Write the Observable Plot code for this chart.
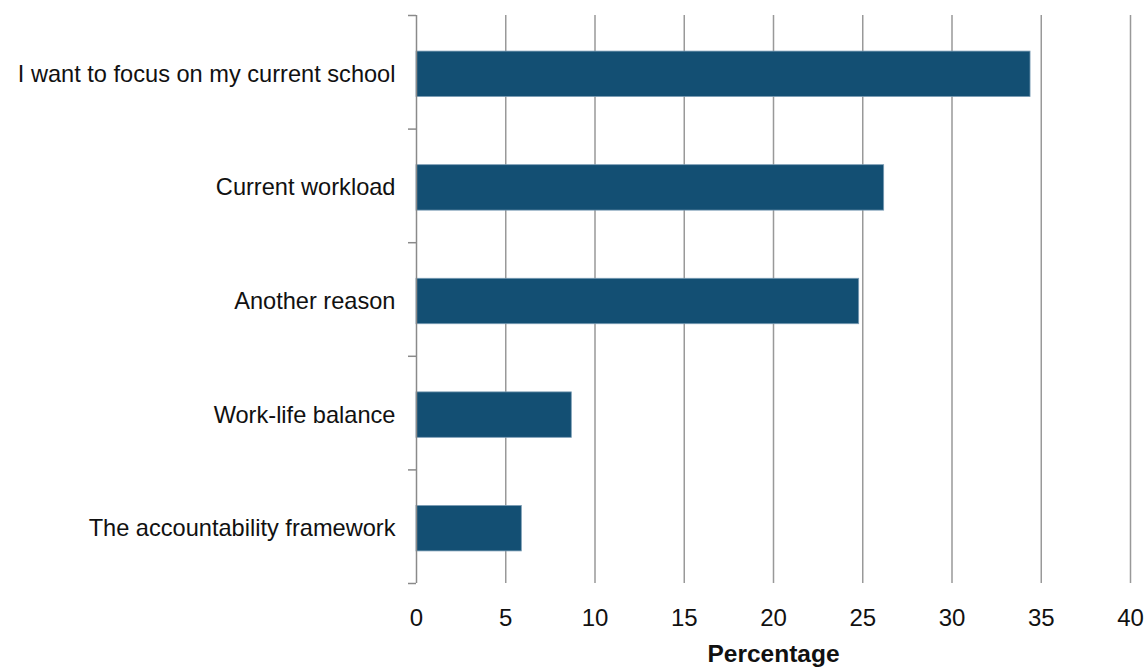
<!DOCTYPE html>
<html><head><meta charset="utf-8">
<script src="https://cdn.jsdelivr.net/npm/d3@7"></script>
<script src="https://cdn.jsdelivr.net/npm/@observablehq/plot@0.6"></script>
<style>html,body{margin:0;padding:0;background:#fff} svg{display:block}</style>
</head><body><div id="chart"></div>
<script>
const categories = ["I want to focus on my current school", "Current workload", "Another reason", "Work-life balance", "The accountability framework"];
const values = [34.4, 26.2, 24.8, 8.7, 5.9];
const xTicks = [0, 5, 10, 15, 20, 25, 30, 35, 40];
const xTitle = "Percentage";

const data = categories.map((c, i) => ({category: c, value: values[i]}));
const W = 1146, H = 670, mL = 416, mR = 16, mT = 15, mB = 87;
const step = (H - mT - mB) / categories.length;
const axisGray = "#8a8a8a";

const plot = Plot.plot({
  width: W, height: H,
  marginLeft: mL, marginRight: mR, marginTop: mT, marginBottom: mB,
  style: {fontFamily: "'Liberation Sans', Arial, sans-serif", background: "#fff", color: "#111"},
  x: {domain: [0, 40], ticks: xTicks},
  y: {domain: categories, type: "band", paddingInner: 0.6, paddingOuter: 0.3, round: false},
  marks: [
    Plot.ruleX(xTicks.filter(t => t > 0), {stroke: "#999", strokeWidth: 1.5}),
    Plot.barX(data, {x: "value", y: "category", dy: 2, fill: "#134f73", stroke: "#7a9cb4", strokeWidth: 0.8}),
    Plot.ruleX([0], {stroke: axisGray, strokeWidth: 1.5}),
    Plot.axisY(categories, {tickSize: 8, fill: "none", dy: -step / 2, stroke: axisGray, strokeWidth: 1.5, label: null}),
    Plot.axisY([categories[categories.length - 1]], {tickSize: 8, fill: "none", dy: step / 2, stroke: axisGray, strokeWidth: 1.5, label: null}),
    Plot.axisY({tickSize: 0, tickPadding: 21, fontSize: 23.6, dy: 2, label: null, fill: "#111"}),
    Plot.axisX({ticks: xTicks, tickSize: 0, tickPadding: 25, fontSize: 24, label: null, fill: "#111"}),
    Plot.text([xTitle], {text: d => d, frameAnchor: "bottom", dy: 71, fontSize: 24.5, fontWeight: "bold", lineAnchor: "middle", fill: "#111"})
  ]
});
document.getElementById("chart").append(plot);
</script>
</body></html>
